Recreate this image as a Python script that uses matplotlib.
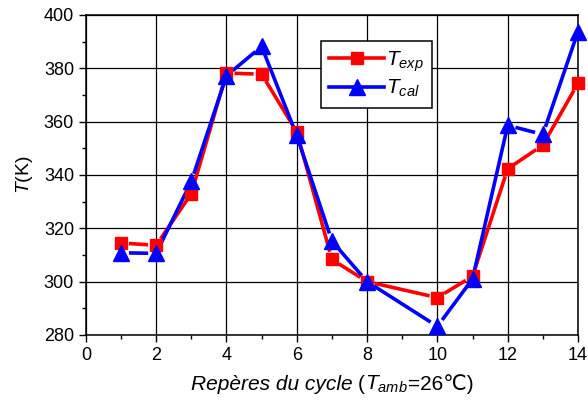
import matplotlib.pyplot as plt
from matplotlib.lines import Line2D
from matplotlib.ticker import MultipleLocator
from matplotlib.offsetbox import TextArea, HPacker, AnchoredOffsetbox
import numpy as np

plt.rcParams['font.family'] = ['Liberation Sans', 'DejaVu Sans']
plt.rcParams['mathtext.fontset'] = 'custom'
plt.rcParams['mathtext.rm'] = 'Liberation Sans'
plt.rcParams['mathtext.it'] = 'Liberation Sans:italic'

# cycle markers (no point at 9)
reperes = [1, 2, 3, 4, 5, 6, 7, 8, 10, 11, 12, 13, 14]
t_exp = [314.5, 313.6, 333.0, 378.2, 377.8, 356.2, 308.3, 300.0, 294.0, 302.0, 342.3, 351.2, 374.4]
t_cal = [310.8, 310.6, 337.6, 377.2, 388.2, 354.8, 315.2, 300.0, 283.2, 301.0, 358.6, 355.2, 393.8]

series = [
    (t_exp, 'red', 's', 9, r'$T_{exp}$'),
    (t_cal, 'blue', '^', 11, r'$T_{cal}$'),
]


def gapped_line(ax, x, y, color, gap=8):
    # Origin style: segments stop short of the markers
    pts = ax.transData.transform(np.column_stack([x, y]))
    inv = ax.transData.inverted()
    for p0, p1 in zip(pts[:-1], pts[1:]):
        d = p1 - p0
        n = np.hypot(*d)
        if n <= 2 * gap:
            continue
        u = d / n
        a, b = inv.transform([p0 + u * gap, p1 - u * gap])
        ax.plot([a[0], b[0]], [a[1], b[1]], color=color, lw=2.6,
                solid_capstyle='butt', zorder=3)


fig, ax = plt.subplots(figsize=(5.88, 4.05), dpi=100)
fig.subplots_adjust(left=0.146, right=0.983, top=0.963, bottom=0.173)

ax.set_xlim(0, 14)
ax.set_ylim(280, 400)

for vals, col, mk, ms, lab in series:
    gapped_line(ax, reperes, vals, col)
    ax.plot(reperes, vals, ls='none', marker=mk, ms=ms, color=col, zorder=4,
            clip_on=False)

ax.xaxis.set_major_locator(MultipleLocator(2))
ax.xaxis.set_minor_locator(MultipleLocator(1))
ax.yaxis.set_major_locator(MultipleLocator(20))
ax.yaxis.set_minor_locator(MultipleLocator(10))
ax.grid(True, which='major', color='black', lw=0.9)
ax.set_axisbelow(True)
ax.tick_params(which='major', direction='out', length=5, width=1, labelsize=13)
ax.tick_params(which='minor', direction='out', length=3, width=1)
for s in ax.spines.values():
    s.set_linewidth(1.1)

ax.set_ylabel(r'$T$(K)', fontsize=14, labelpad=6)

# x label in pieces so the ℃ glyph can fall back to DejaVu Sans
fs = 15
parts = [
    TextArea('Repères du cycle ', textprops=dict(fontsize=fs, style='italic')),
    TextArea('(', textprops=dict(fontsize=fs)),
    TextArea(r'$T_{amb}$', textprops=dict(fontsize=fs)),
    TextArea('=26℃)', textprops=dict(fontsize=fs)),
]
xlab = HPacker(children=parts, pad=0, sep=0, align='baseline')
box = AnchoredOffsetbox(loc='center', child=xlab, frameon=False, pad=0,
                        bbox_to_anchor=(0.5, -0.155), bbox_transform=ax.transAxes)
ax.add_artist(box)

handles = [Line2D([], [], color=col, lw=2.6, marker=mk, ms=ms)
           for _, col, mk, ms, _ in series]
labels = [lab for *_, lab in series]
leg = ax.legend(handles, labels, loc='upper left', bbox_to_anchor=(0.478, 0.919),
                borderaxespad=0, fontsize=15, fancybox=False, framealpha=1,
                edgecolor='black', handlelength=2.6, labelspacing=0.2,
                handletextpad=0.1, borderpad=0.4)
leg.get_frame().set_linewidth(1.1)

fig.savefig('out.png', dpi=100)
